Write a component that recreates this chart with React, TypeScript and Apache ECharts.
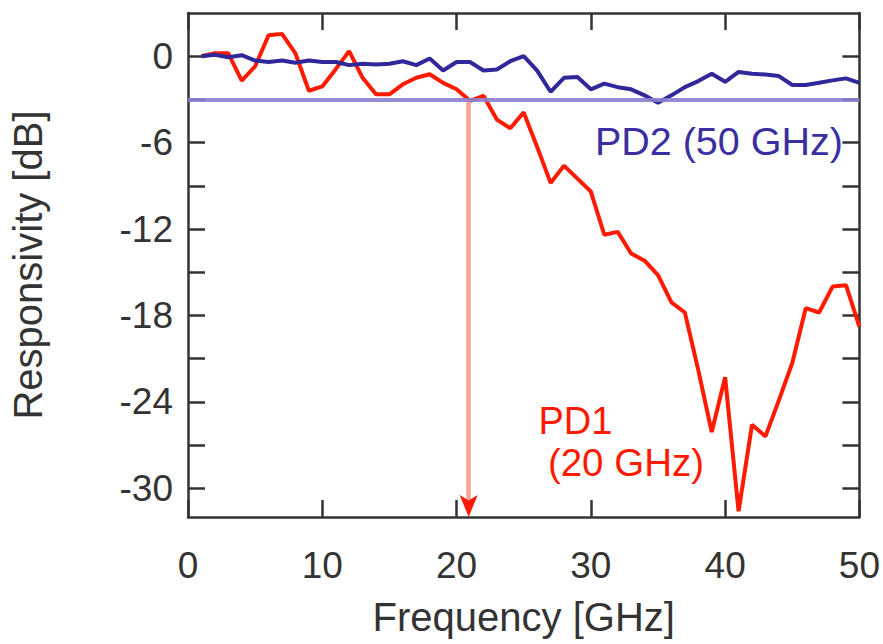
import React, { useEffect, useRef } from "react";
import * as echarts from "echarts";

const FONT = '"Liberation Sans", Arial, Helvetica, sans-serif';

const freq = [1, 2, 3, 4, 5, 6, 7, 8, 9, 10, 11, 12, 13, 14, 15, 16, 17, 18, 19, 20, 21, 22, 23, 24, 25, 26, 27, 28, 29, 30, 31, 32, 33, 34, 35, 36, 37, 38, 39, 40, 41, 42, 43, 44, 45, 46, 47, 48, 49, 50];

const pd1 = [0.0, 0.2, 0.2, -1.7, -0.7, 1.45, 1.55, 0.2, -2.4, -2.1, -0.9, 0.35, -1.5, -2.65, -2.65, -1.95, -1.5, -1.25, -1.85, -2.3, -3.1, -2.75, -4.4, -5.0, -3.9, -6.3, -8.8, -7.6, -8.5, -9.4, -12.4, -12.2, -13.7, -14.2, -15.2, -17.1, -17.8, -21.8, -26.1, -22.3, -31.6, -25.6, -26.4, -23.9, -21.3, -17.5, -17.8, -16.0, -15.9, -18.8];

const pd2 = [0.0, 0.1, -0.07, 0.07, -0.3, -0.4, -0.3, -0.46, -0.3, -0.4, -0.4, -0.62, -0.53, -0.58, -0.53, -0.35, -0.62, -0.16, -0.99, -0.4, -0.4, -0.99, -0.92, -0.35, 0.0, -1.0, -2.47, -1.5, -1.45, -2.3, -1.9, -2.15, -2.3, -2.72, -3.23, -2.72, -2.15, -1.73, -1.22, -1.78, -1.09, -1.22, -1.27, -1.38, -2.0, -2.0, -1.85, -1.68, -1.54, -1.85];

const yLabelValues = [0, -6, -12, -18, -24, -30];
const yTickValues = [0, -3, -6, -9, -12, -15, -18, -21, -24, -27, -30];

const cutoffLevel = -3;
const pd1Cutoff = 20.9;

export default function App() {
  const ref = useRef<HTMLDivElement>(null);

  useEffect(() => {
    const chart = echarts.init(ref.current!, null, { renderer: "svg" });
    const axisColor = "#333";
    const lineStyle = { color: axisColor, width: 2.5 };
    const textStyle = { color: "#333", fontFamily: FONT };

    const xBase = {
      type: "value",
      min: 0,
      max: 50,
      interval: 10,
      axisLine: { show: true, onZero: false, lineStyle },
      axisTick: { show: true, inside: true, length: 17, lineStyle },
      splitLine: { show: false },
    };
    const yBase = {
      type: "value",
      min: -32,
      max: 3,
      axisLine: { show: true, onZero: false, lineStyle },
      axisTick: { show: true, inside: true, length: 17, lineStyle, customValues: yTickValues },
      splitLine: { show: false },
    };

    chart.setOption({
      animation: false,
      grid: { left: 187.5, right: 23, top: 13, bottom: 127, containLabel: false },
      xAxis: [
        {
          ...xBase,
          position: "bottom",
          axisLabel: { ...textStyle, fontSize: 37, margin: 30 },
          name: "Frequency [GHz]",
          nameLocation: "middle",
          nameGap: 80,
          nameTextStyle: { ...textStyle, fontSize: 40 },
        },
        { ...xBase, position: "top", axisLabel: { show: false } },
      ],
      yAxis: [
        {
          ...yBase,
          position: "left",
          axisLabel: { ...textStyle, fontSize: 37, margin: 15, customValues: yLabelValues },
          name: "Responsivity [dB]",
          nameLocation: "middle",
          nameGap: 140,
          nameTextStyle: { ...textStyle, fontSize: 40 },
        },
        { ...yBase, position: "right", axisLabel: { show: false } },
      ],
      series: [
        {
          name: "PD1 (20 GHz)",
          type: "line",
          xAxisIndex: 0,
          yAxisIndex: 0,
          data: freq.map((f, i) => [f, pd1[i]]),
          showSymbol: false,
          symbol: "none",
          lineStyle: { color: "#ff1a00", width: 4 },
          z: 3,
          markLine: {
            silent: true,
            symbol: ["none", "none"],
            label: { show: false },
            lineStyle: { color: "#ffa595", width: 4.5, type: "solid" },
            data: [[{ coord: [pd1Cutoff, cutoffLevel] }, { coord: [pd1Cutoff, -31.2] }]],
          },
          markPoint: {
            silent: true,
            symbol: "path://M0,0 L10,6 L20,0 L10,24 Z",
            symbolSize: [18, 22],
            symbolOffset: [0, -11],
            itemStyle: { color: "#ff1a00" },
            label: { show: false },
            data: [{ coord: [pd1Cutoff, -32] }],
          },
        },
        {
          name: "PD2 (50 GHz)",
          type: "line",
          xAxisIndex: 0,
          yAxisIndex: 0,
          data: freq.map((f, i) => [f, pd2[i]]),
          showSymbol: false,
          symbol: "none",
          lineStyle: { color: "#30279a", width: 4 },
          z: 4,
          markLine: {
            silent: true,
            symbol: ["none", "none"],
            label: { show: false },
            lineStyle: { color: "#8a80d0", width: 4, type: "solid", opacity: 0.9 },
            data: [{ yAxis: cutoffLevel }],
          },
        },
      ],
    });

    const px = (x: number, y: number) =>
      chart.convertToPixel({ xAxisIndex: 0, yAxisIndex: 0 }, [x, y]) as number[];
    const p2 = px(30.3, -5.9);
    const p1a = px(26.1, -25.3);
    const p1b = px(26.8, -28.2);
    chart.setOption({
      graphic: [
        {
          type: "text",
          x: p2[0],
          y: p2[1],
          style: { text: "PD2 (50 GHz)", fill: "#3a2fa0", fontSize: 39.5, fontFamily: FONT, align: "left", verticalAlign: "middle" },
        },
        {
          type: "text",
          x: p1a[0],
          y: p1a[1],
          style: { text: "PD1", fill: "#ff1a00", fontSize: 38, fontFamily: FONT, align: "left", verticalAlign: "middle" },
        },
        {
          type: "text",
          x: p1b[0],
          y: p1b[1],
          style: { text: "(20 GHz)", fill: "#ff1a00", fontSize: 38.5, fontFamily: FONT, align: "left", verticalAlign: "middle" },
        },
      ],
    });

    return () => chart.dispose();
  }, []);

  return (
    <div
      ref={ref}
      style={{ position: "fixed", left: 0, top: 0, width: 883, height: 644, background: "#fff" }}
    />
  );
}
